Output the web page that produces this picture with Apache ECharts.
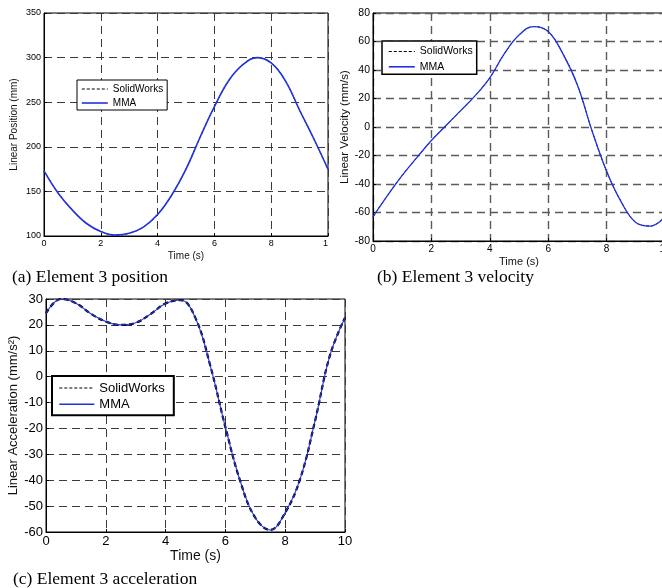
<!DOCTYPE html>
<html>
<head>
<meta charset="utf-8">
<script src="https://cdn.jsdelivr.net/npm/echarts@6/dist/echarts.min.js"></script>
<style>
html, body { margin: 0; padding: 0; background: #fff; }
#chart { width: 662px; height: 588px; }
</style>
</head>
<body>
<div id="chart"></div>
<script>
var timeData = [0, 0.5, 1, 1.5, 2, 2.5, 3, 3.5, 4, 4.5, 5, 5.5, 6, 6.5, 7, 7.5, 8, 8.5, 9, 9.5, 10];
var positionData = [173, 148, 129, 114, 105, 101, 103, 110, 124, 146, 175, 211, 245, 274, 292, 300, 294, 274, 241, 209, 175];
var velocityData = [-63, -48, -34, -21.5, -9.5, 1, 11.5, 22, 34.5, 51.5, 64.5, 70.5, 67, 51.5, 29.5, -2.6, -31, -52.5, -67, -69.5, -63];
var accelData = [24.5, 30, 28.4, 24.3, 21.3, 20, 20.8, 24.2, 28.3, 29.6, 22.6, 4, -19.5, -40.5, -54.5, -59.2, -52.5, -39.5, -17, 8.4, 22.8];
var legendNames = ['SolidWorks', 'MMA'];
var captions = ['(a) Element 3 position', '(b) Element 3 velocity', '(c) Element 3 acceleration'];

var blue = '#2233dd';
var sans = '"Liberation Sans", Arial, sans-serif';
var serifFont = '17.5px "Liberation Serif", "Times New Roman", serif';

function pairs(values) {
    return timeData.map(function (t, i) { return [t, values[i]]; });
}

function xAxisFor(idx, fontSize, gap, gridColor, gridWidth, formatter) {
    return {
        gridIndex: idx, type: 'value', min: 0, max: 10, interval: 2,
        name: 'Time (s)', nameLocation: 'middle', nameGap: gap,
        nameTextStyle: { fontSize: fontSize + 1, fontFamily: sans, color: '#111' },
        axisLine: { show: true, onZero: false, lineStyle: { color: '#000', width: 1 } },
        axisTick: { show: true, inside: true, length: 3, lineStyle: { color: '#000' } },
        axisLabel: { fontSize: fontSize, fontFamily: sans, color: '#000', margin: 3, formatter: formatter,
            rich: { cut: { fontSize: fontSize, fontFamily: sans, color: '#000', padding: [0, fontSize * 0.55, 0, 0] } } },
        splitLine: { show: true, lineStyle: { color: gridColor, type: [8, 5], width: gridWidth } }
    };
}

function yAxisFor(idx, min, max, interval, fontSize, nameSize, gap, name, gridColor, gridWidth) {
    return {
        gridIndex: idx, type: 'value', min: min, max: max, interval: interval,
        name: name, nameLocation: 'middle', nameGap: gap, nameRotate: 90,
        nameTextStyle: { fontSize: nameSize, fontFamily: sans, color: '#111' },
        axisLine: { show: true, onZero: false, lineStyle: { color: '#000', width: 1 } },
        axisTick: { show: true, inside: true, length: 3, lineStyle: { color: '#000' } },
        axisLabel: { fontSize: fontSize, fontFamily: sans, color: '#000', margin: 3 },
        splitLine: { show: true, lineStyle: { color: gridColor, type: [8, 5], width: gridWidth } }
    };
}

function seriesPair(idx, values, swWidth, swDash, mmaWidth) {
    return [
        {
            name: 'SolidWorks', type: 'line', xAxisIndex: idx, yAxisIndex: idx,
            data: pairs(values), smooth: 0.4, symbol: 'none', z: 2,
            lineStyle: { color: '#000', width: swWidth, type: swDash }
        },
        {
            name: 'MMA', type: 'line', xAxisIndex: idx, yAxisIndex: idx,
            data: pairs(values), smooth: 0.4, symbol: 'none', z: 3,
            lineStyle: { color: blue, width: mmaWidth, type: 'solid' }
        }
    ];
}

function legendFor(left, top, fontSize, itemWidth, itemHeight, itemGap, padding, border) {
    return {
        data: legendNames, orient: 'vertical', left: left, top: top,
        itemWidth: itemWidth, itemHeight: itemHeight, itemGap: itemGap, padding: padding,
        backgroundColor: '#fff', borderColor: '#000', borderWidth: border,
        selectedMode: false,
        itemStyle: { opacity: 0 },
        lineStyle: { width: 'inherit', type: 'inherit' },
        textStyle: { fontSize: fontSize, fontFamily: sans, color: '#000' }
    };
}

var chart = echarts.init(document.getElementById('chart'), null, { renderer: 'canvas' });

var option = {
    animation: false,
    backgroundColor: '#fff',
    grid: [
        { left: 44, top: 13, width: 284, height: 223, show: true, borderColor: '#000', borderWidth: 1, outerBoundsMode: 'none', containLabel: false },
        { left: 373, top: 13, width: 292, height: 228, show: true, borderColor: '#000', borderWidth: 1, outerBoundsMode: 'none', containLabel: false },
        { left: 46, top: 299, width: 299, height: 233, show: true, borderColor: '#000', borderWidth: 1, outerBoundsMode: 'none', containLabel: false }
    ],
    xAxis: [
        xAxisFor(0, 9, 15, '#3a3a3a', 1, function (v) { return v === 10 ? '{cut|1}' : String(v); }),
        xAxisFor(1, 10, 15, '#5a5a5a', 1.4),
        xAxisFor(2, 13, 17, '#3a3a3a', 1)
    ],
    yAxis: [
        yAxisFor(0, 100, 350, 50, 9, 10, 25, 'Linear Position (mm)', '#3a3a3a', 1),
        yAxisFor(1, -80, 80, 20, 10.5, 11.5, 21, 'Linear Velocity (mm/s)', '#5a5a5a', 1.4),
        yAxisFor(2, -60, 30, 10, 13, 13, 25, 'Linear Acceleration (mm/s\u00b2)', '#3a3a3a', 1)
    ],
    legend: [
        legendFor(77, 80, 10, 26, 10, 4, [4, 4, 2, 4], 1),
        legendFor(382, 41, 10.5, 26, 10, 4.3, [5, 4, 2, 6], 1.5),
        legendFor(52, 376, 13, 35, 13, 3.3, [5.5, 9, 4.5, 6.5], 2)
    ],
    graphic: [
        { type: 'text', left: 12, top: 268, style: { text: captions[0], font: serifFont, fill: '#000' } },
        { type: 'text', left: 377, top: 268, style: { text: captions[1], font: serifFont, fill: '#000' } },
        { type: 'text', left: 13, top: 570, style: { text: captions[2], font: serifFont, fill: '#000' } }
    ],
    series: []
        .concat(seriesPair(0, positionData, 1, [3, 2], 1.6))
        .concat(seriesPair(1, velocityData, 1, [3, 2], 1.3))
        .concat(seriesPair(2, accelData, 2.2, [5, 3], 1.1))
};

chart.setOption(option);
</script>
</body>
</html>
